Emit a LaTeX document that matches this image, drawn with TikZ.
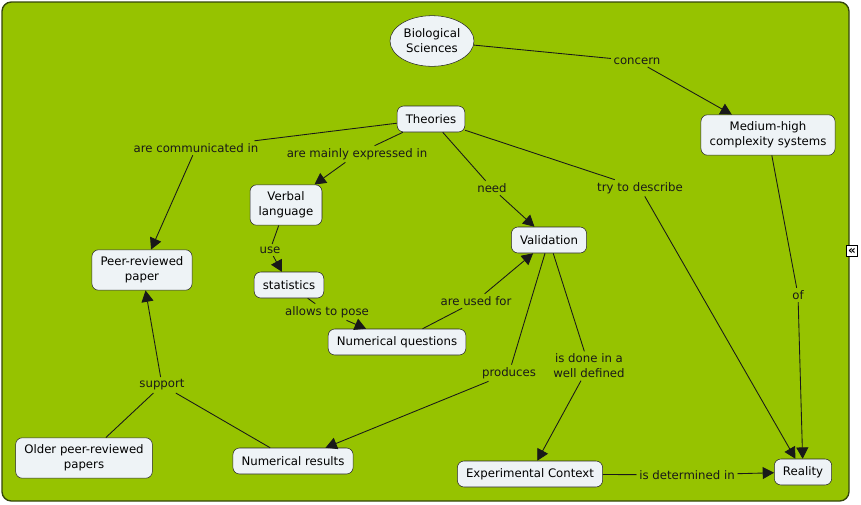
\documentclass[tikz,border=0pt]{standalone}
\usepackage{fontspec}
\setmainfont{DejaVu Sans}
\usepackage{tikz}
\usetikzlibrary{shapes, arrows.meta, positioning}
\definecolor{mapgreen}{RGB}{150,195,0}
\definecolor{mapborder}{RGB}{52,70,10}
\definecolor{conceptfill}{RGB}{238,243,246}

\begin{document}
\begin{tikzpicture}[x=0.75pt, y=-0.75pt,
	concept/.style={draw=black!85, fill=conceptfill, rounded corners=5pt, align=center, inner xsep=6.5pt, inner ysep=5.3pt, minimum height=19.5pt, font=\fontsize{8.8}{11.2}\selectfont},
	linking/.style={align=center, inner sep=1.8pt, text=black!90, font=\fontsize{8.8}{11.2}\selectfont},
	link/.style={draw=black!90, line width=0.65pt},
	>={Triangle[length=8.5pt, width=9pt]}]
	\useasboundingbox (0,0) rectangle (861,504);
	\draw[mapborder, fill=mapgreen, line width=1pt, rounded corners=7pt] (2,2) rectangle (849,501);
	% concepts
	\node[concept, ellipse, rounded corners=0pt, inner xsep=1pt, inner ysep=3pt, minimum width=63pt, minimum height=38pt] (bio) at (432,41) {Biological\\Sciences};
	\node[concept] (theo) at (431,119) {Theories};
	\node[concept] (medium) at (768,135) {Medium-high\\complexity systems};
	\node[concept] (verbal) at (286,205) {Verbal\\language};
	\node[concept] (valid) at (549,240) {Validation};
	\node[concept] (peer) at (142,270) {Peer-reviewed\\paper};
	\node[concept] (stats) at (289,285) {statistics};
	\node[concept] (numq) at (397,342) {Numerical questions};
	\node[concept] (older) at (84,458) {Older peer-reviewed\\papers};
	\node[concept] (numres) at (293,461) {Numerical results};
	\node[concept] (exper) at (530,474) {Experimental Context};
	\node[concept] (reality) at (803,472) {Reality};
	\node[draw=black, fill=white, inner sep=0pt, minimum width=8.5pt, minimum height=8pt, font=\fontsize{9}{9}\selectfont\bfseries] (collapse) at (852,251) {«};
	% linking phrases
	\node[linking] (concern) at (637,61) {concern};
	\node[linking] (comm) at (196,148) {are communicated in};
	\node[linking] (expr) at (357,154) {are mainly expressed in};
	\node[linking] (need) at (492,188) {need};
	\node[linking] (descr) at (640,188) {try to describe};
	\node[linking] (of) at (798,295) {of};
	\node[linking] (use) at (270,250) {use};
	\node[linking] (pose) at (327,312) {allows to pose};
	\node[linking] (usedfor) at (476,301) {are used for};
	\node[linking] (produces) at (509,373) {produces};
	\node[linking] (done) at (589,366) {is done in a\\well defined};
	\node[linking] (support) at (162,385) {support};
	\node[linking] (determ) at (687,475) {is determined in};
	% connectors
	\foreach \from/\to in {bio/concern, theo/comm, theo/expr, theo/need, theo/descr, medium/of, verbal/use, stats/pose, numq/usedfor, valid/produces, valid/done, older/support, numres/support, exper/determ}
		\draw[link] (\from) -- (\to);
	\foreach \from/\to in {concern/medium, comm/peer, expr/verbal, need/valid, descr/reality, of/reality, use/stats, pose/numq, usedfor/valid, produces/numres, done/exper, support/peer, determ/reality}
		\draw[link, ->] (\from) -- (\to);
\end{tikzpicture}
\end{document}
